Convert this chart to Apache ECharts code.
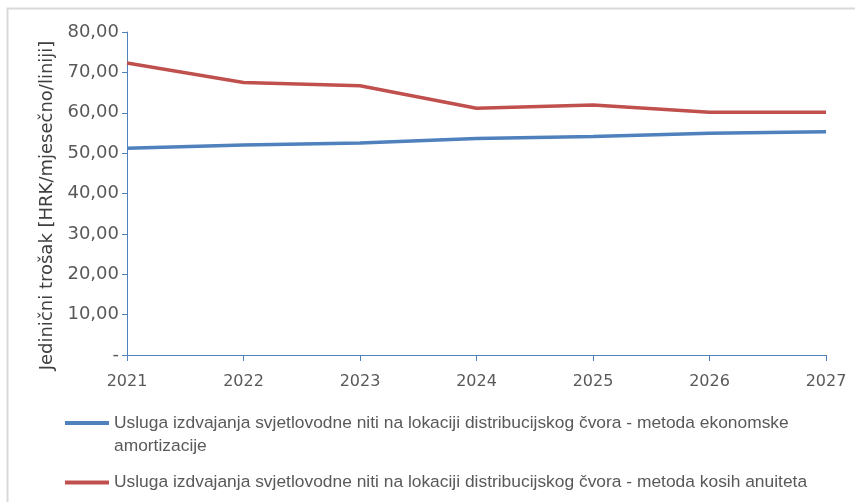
<!DOCTYPE html>
<html>
<head>
<meta charset="utf-8">
<script src="https://cdn.jsdelivr.net/npm/echarts@6/dist/echarts.min.js"></script>
<style>
  html, body { margin: 0; padding: 0; background: #fff; }
  #chart { width: 855px; height: 502px; }
</style>
</head>
<body>
<div id="chart"></div>
<script>
const years = ["2021", "2022", "2023", "2024", "2025", "2026", "2027"]
const ekonomskeValues = [51.2, 52.0, 52.5, 53.6, 54.1, 54.9, 55.3]
const anuitetiValues = [72.3, 67.5, 66.7, 61.1, 61.9, 60.1, 60.1]
const nameEkonomske = "Usluga izdvajanja svjetlovodne niti na lokaciji distribucijskog čvora - metoda ekonomske amortizacije"
const nameAnuiteti = "Usluga izdvajanja svjetlovodne niti na lokaciji distribucijskog čvora - metoda kosih anuiteta"

const axisColor = "#4f81bd"
const labelColor = "#595959"

const chart = echarts.init(document.getElementById("chart"))

const legendBase = {
  orient: "vertical",
  left: 60,
  itemWidth: 44,
  itemHeight: 4,
  icon: "rect",
  selectedMode: false,
  textStyle: { color: labelColor, fontSize: 17.4, fontFamily: "Liberation Sans", lineHeight: 23 }
}

chart.setOption({
  animation: false,
  backgroundColor: "#fff",
  graphic: [
    {
      type: "rect",
      shape: { x: 7.5, y: 8.5, width: 870, height: 520 },
      style: { fill: "none", stroke: "#d9d9d9", lineWidth: 2 },
      silent: true
    }
  ],
  grid: { left: 127, right: 29, top: 32, bottom: 147 },
  legend: [
    Object.assign({}, legendBase, {
      top: 383.5,
      data: [nameEkonomske],
      // blank first line keeps the icon level with the first text line
      formatter: () => "\nUsluga izdvajanja svjetlovodne niti na lokaciji distribucijskog čvora - metoda ekonomske\namortizacije"
    }),
    Object.assign({}, legendBase, {
      top: 466,
      data: [nameAnuiteti]
    })
  ],
  xAxis: {
    type: "category",
    data: years,
    boundaryGap: false,
    axisLine: { lineStyle: { color: axisColor, width: 1 } },
    axisTick: { show: true, length: 6, lineStyle: { color: axisColor } },
    axisLabel: { color: labelColor, fontSize: 16, fontFamily: "DejaVu Sans", margin: 19 },
    splitLine: { show: false }
  },
  yAxis: {
    type: "value",
    min: 0,
    max: 80,
    interval: 10,
    name: "Jedinični trošak [HRK/mjesečno/liniji]",
    nameLocation: "middle",
    nameGap: 68,
    nameTextStyle: { color: "#404040", fontSize: 18, fontFamily: "DejaVu Sans", padding: [0, 24, 0, 0] },
    axisLine: { show: true, lineStyle: { color: axisColor, width: 1 } },
    axisTick: { show: true, length: 5, lineStyle: { color: axisColor } },
    axisLabel: {
      color: labelColor,
      fontSize: 18,
      fontFamily: "DejaVu Sans",
      margin: 8,
      formatter: v => (v === 0 ? "-" : v.toFixed(2).replace(".", ","))
    },
    splitLine: { show: false }
  },
  series: [
    {
      name: nameEkonomske,
      type: "line",
      data: ekonomskeValues,
      symbol: "none",
      color: "#4f81bd",
      lineStyle: { width: 3.5, color: "#4f81bd" }
    },
    {
      name: nameAnuiteti,
      type: "line",
      data: anuitetiValues,
      symbol: "none",
      color: "#c0504d",
      lineStyle: { width: 3.5, color: "#c0504d" }
    }
  ]
})
</script>
</body>
</html>
